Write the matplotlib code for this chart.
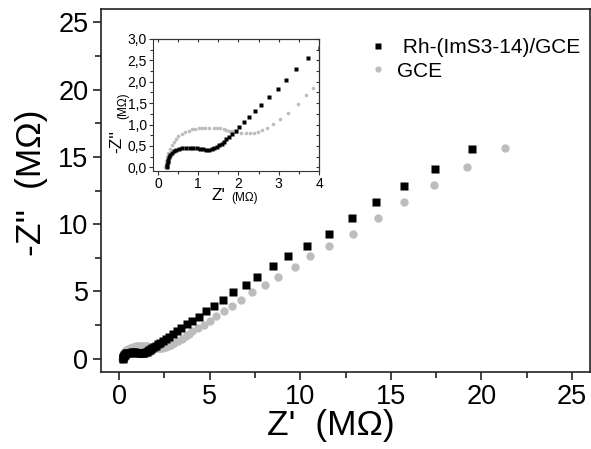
import matplotlib
matplotlib.use("Agg")
import matplotlib.pyplot as plt
from matplotlib.lines import Line2D
from matplotlib.ticker import MultipleLocator, FuncFormatter, NullFormatter

plt.rcParams['font.family'] = ['Liberation Sans', 'DejaVu Sans']

# Nyquist data, Z' and -Z'' in MOhm
rh_zre = [0.22, 0.23, 0.24, 0.26, 0.28, 0.31, 0.35, 0.40, 0.46, 0.53, 0.61, 0.70,
          0.79, 0.88, 0.97, 1.05, 1.13, 1.20, 1.27, 1.34, 1.40, 1.46, 1.52, 1.58,
          1.64, 1.70, 1.76, 1.83, 1.93, 2.02, 2.14, 2.27, 2.40, 2.57, 2.76, 2.97,
          3.19, 3.44, 3.73, 4.03, 4.40, 4.80, 5.22, 5.71, 6.29, 6.98, 7.64, 8.52,
          9.31, 10.35, 11.58, 12.86, 14.20, 15.75, 17.46, 19.47]
rh_zim = [0.00, 0.06, 0.12, 0.18, 0.24, 0.29, 0.34, 0.38, 0.41, 0.43, 0.45, 0.46,
          0.46, 0.46, 0.45, 0.43, 0.42, 0.41, 0.41, 0.42, 0.44, 0.47, 0.51, 0.55,
          0.60, 0.65, 0.70, 0.77, 0.86, 0.95, 1.05, 1.18, 1.31, 1.46, 1.64, 1.83,
          2.05, 2.29, 2.55, 2.80, 3.10, 3.51, 3.91, 4.38, 4.92, 5.47, 6.09, 6.85,
          7.62, 8.37, 9.30, 10.44, 11.66, 12.85, 14.13, 15.59]

gce_zre = [0.18, 0.19, 0.21, 0.23, 0.26, 0.30, 0.34, 0.40, 0.46, 0.51, 0.59, 0.68,
           0.76, 0.84, 0.93, 1.01, 1.10, 1.18, 1.28, 1.38, 1.47, 1.55, 1.63, 1.70,
           1.77, 1.83, 1.95, 2.07, 2.18, 2.28, 2.38, 2.48, 2.59, 2.72, 2.87, 3.03,
           3.23, 3.47, 3.68, 3.85, 4.05, 4.35, 4.67, 5.00, 5.35, 5.77, 6.23, 6.74,
           7.33, 8.06, 8.76, 9.71, 10.55, 11.60, 12.91, 14.29, 15.75, 17.40, 19.20,
           21.28]
gce_zim = [0.00, 0.07, 0.15, 0.24, 0.33, 0.43, 0.52, 0.60, 0.67, 0.72, 0.77, 0.82,
           0.86, 0.89, 0.90, 0.91, 0.92, 0.93, 0.93, 0.93, 0.92, 0.91, 0.89, 0.87,
           0.86, 0.85, 0.82, 0.80, 0.79, 0.79, 0.80, 0.83, 0.87, 0.93, 1.02, 1.13,
           1.28, 1.48, 1.68, 1.86, 2.03, 2.27, 2.52, 2.82, 3.17, 3.51, 3.91, 4.38,
           4.95, 5.47, 6.09, 6.83, 7.65, 8.37, 9.28, 10.44, 11.63, 12.94, 14.25,
           15.66]

labels = [" Rh-(ImS3-14)/GCE", "GCE"]
black = "#000000"
grey = "#bdbdbd"

W, H = 591, 449
fig = plt.figure(figsize=(W / 100, H / 100), dpi=100)
ax = fig.add_axes([101 / W, 1 - 372 / H, (590 - 101) / W, (372 - 9) / H])

ax.plot(gce_zre, gce_zim, 'o', color=grey, ms=6.0, mec='none')
ax.plot(rh_zre, rh_zim, 's', color=black, ms=5.2, mec='none')

ax.set_xlim(-1, 26)
ax.set_ylim(-1, 26)
ax.xaxis.set_major_locator(MultipleLocator(5))
ax.xaxis.set_minor_locator(MultipleLocator(2.5))
ax.yaxis.set_major_locator(MultipleLocator(5))
ax.yaxis.set_minor_locator(MultipleLocator(2.5))
ax.tick_params(which='major', direction='out', length=6, width=1.2, labelsize=19.5,
               colors='#222222', labelcolor='black', pad=3)
ax.tick_params(which='minor', direction='out', length=4, width=1.2, colors='#222222')
for s in ax.spines.values():
    s.set_linewidth(1.2)
    s.set_color('#222222')

# axis titles
fig.text(331 / W, 1 - 425 / H, "Z'  (M\u03a9)", fontsize=25.5, ha='center', va='center')
fig.text(32 / W, 1 - 183 / H, "-Z''  (M\u03a9)", fontsize=25.5, ha='center', va='center',
         rotation=90)

handles = [Line2D([], [], ls='none', marker='s', color=black, ms=4, mec='none'),
           Line2D([], [], ls='none', marker='o', color=grey, ms=4.5, mec='none')]
ax.legend(handles, labels, loc='upper left', bbox_to_anchor=(356 / W, 1 - 28 / H),
          bbox_transform=fig.transFigure, frameon=False, fontsize=15,
          handlelength=1.1, handletextpad=0.35, borderpad=0, labelspacing=0.2)

# inset: zoom on the high-frequency region
ins = fig.add_axes([152.7 / W, 1 - 170.7 / H, (319 - 152.7) / W, (170.7 - 39) / H])
ins.plot(gce_zre, gce_zim, 'o', color=grey, ms=2.6, mec='none')
ins.plot(rh_zre, rh_zim, 's', color=black, ms=2.3, mec='none')
ins.set_xlim(-0.13, 4.0)
ins.set_ylim(-0.08, 3.0)
ins.xaxis.set_major_locator(MultipleLocator(1))
ins.xaxis.set_minor_locator(MultipleLocator(0.5))
ins.yaxis.set_major_locator(MultipleLocator(0.5))
ins.yaxis.set_minor_locator(MultipleLocator(0.25))
ins.yaxis.set_major_formatter(FuncFormatter(lambda v, p: f"{v:.1f}".replace('.', ',')))
ins.tick_params(which='both', direction='out', labelsize=10, colors='#333333',
                labelcolor='black', pad=1.2)
ins.tick_params(which='major', length=3, width=0.8)
ins.tick_params(which='minor', length=2, width=0.8)
for s in ins.spines.values():
    s.set_linewidth(0.8)
    s.set_color('#333333')

# inward ticks on the opposite sides of the inset
top = ins.secondary_xaxis('top')
top.xaxis.set_major_locator(MultipleLocator(0.5))
top.xaxis.set_major_formatter(NullFormatter())
top.tick_params(direction='in', length=2.5, width=0.8, colors='#333333')
right = ins.secondary_yaxis('right')
right.yaxis.set_major_locator(MultipleLocator(0.25))
right.yaxis.set_major_formatter(NullFormatter())
right.tick_params(direction='in', length=2.5, width=0.8, colors='#333333')

fig.text(218 / W, 1 - 195 / H, "Z'", fontsize=12.5, ha='center', va='center')
fig.text(245 / W, 1 - 198 / H, "(M\u03a9)", fontsize=8.5, ha='center', va='center')
fig.text(117 / W, 1 - 142 / H, "-Z''", fontsize=12.5, ha='center', va='center',
         rotation=90)
fig.text(123 / W, 1 - 106 / H, "(M\u03a9)", fontsize=8.5, ha='center', va='center',
         rotation=90)

fig.savefig("out.png", dpi=100)
